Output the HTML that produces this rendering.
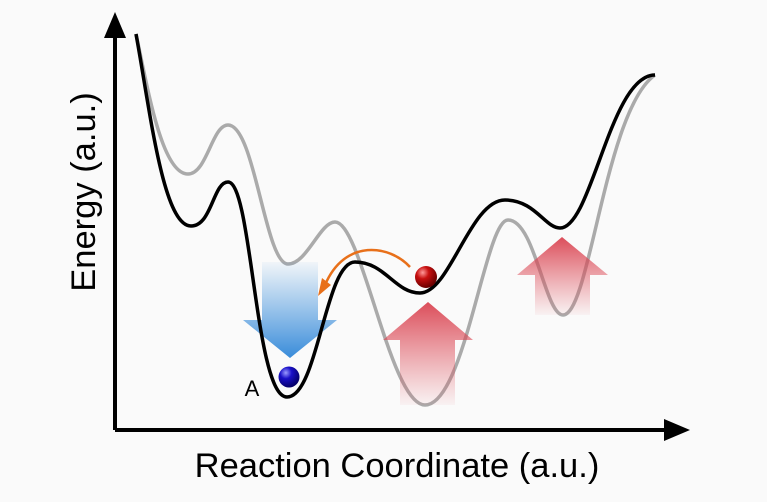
<!DOCTYPE html>
<html><head><style>body{margin:0;background:#fafafa}svg{display:block}</style></head><body>
<svg width="767" height="502" viewBox="0 0 767 502" xmlns="http://www.w3.org/2000/svg">
<defs>
<linearGradient id="bl" x1="0" y1="0" x2="0" y2="1"><stop offset="0" stop-color="#3a8fdc" stop-opacity="0.05"/><stop offset="1" stop-color="#2f86d8" stop-opacity="0.95"/></linearGradient>
<linearGradient id="rd" x1="0" y1="0" x2="0" y2="1"><stop offset="0" stop-color="#d83a48" stop-opacity="0.9"/><stop offset="1" stop-color="#e05560" stop-opacity="0.05"/></linearGradient>
<radialGradient id="rb" cx="0.35" cy="0.3" r="0.7"><stop offset="0" stop-color="#ff9a9a"/><stop offset="0.4" stop-color="#c81010"/><stop offset="1" stop-color="#6a0000"/></radialGradient>
<radialGradient id="bb" cx="0.35" cy="0.3" r="0.7"><stop offset="0" stop-color="#9a9aff"/><stop offset="0.4" stop-color="#1a10c8"/><stop offset="1" stop-color="#05006a"/></radialGradient>
</defs>
<rect width="767" height="502" fill="#fafafa"/>
<path d="M136,34 C148,90 162,174 188,174 C207,174 212,125 228,125 C255,125 265,264 288,264 C307,264 320,222 335,222 C362,222 390,405 425,405 C465,405 485,220 508,220 C535,220 545,315 563,315 C590,315 605,110 655,75" fill="none" stroke="#aaa" stroke-width="3.5"/>
<path d="M262,262 H318 V320 H337 L290,358 L243,320 H262 Z" fill="url(#bl)"/>
<path d="M400,405 V340 H383 L428,302 L473,340 H455 V405 Z" fill="url(#rd)"/>
<path d="M535,315 V275 H517 L562,237 L608,275 H590 V315 Z" fill="url(#rd)"/>
<path d="M136,34 C150,110 163,226 191,226 C212,226 213,182 228,182 C252,182 255,397 287,397 C318,397 325,262 355,262 C385,262 395,293 420,293 C450,293 470,200 505,200 C535,200 545,228 560,228 C592,228 610,75 655,75" fill="none" stroke="#000" stroke-width="3.5"/>
<path d="M410,267 C390,245 345,238 325,285" fill="none" stroke="#e8701a" stroke-width="2.5"/>
<path d="M318,296 L322,278 L331,285 Z" fill="#e8701a"/>
<circle cx="426" cy="277" r="11" fill="url(#rb)"/>
<circle cx="289" cy="377" r="10.5" fill="url(#bb)"/>
<path d="M115,430 V30 M115,430 H670" stroke="#000" stroke-width="4" fill="none"/>
<path d="M115,12 L104,38 L126,38 Z" fill="#000"/>
<path d="M690,430 L664,419 L664,441 Z" fill="#000"/>
<text x="252" y="396" font-family="Liberation Sans, sans-serif" font-size="22" text-anchor="middle">A</text>
<text x="397" y="477" font-family="Liberation Sans, sans-serif" font-size="34.5" text-anchor="middle">Reaction Coordinate (a.u.)</text>
<text transform="translate(95,192) rotate(-90)" font-family="Liberation Sans, sans-serif" font-size="34.5" text-anchor="middle">Energy (a.u.)</text>
</svg>
</body></html>
